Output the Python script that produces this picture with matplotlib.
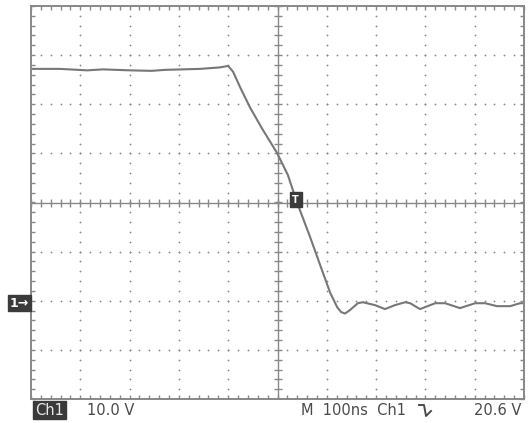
import numpy as np
import matplotlib.pyplot as plt
from matplotlib.lines import Line2D

# waveform: time in ns, voltage in V
t_ns = [0, 59, 114, 146, 201, 245, 272, 343, 383, 400, 410, 424, 444, 469, 499,
        521, 540, 566, 590, 607, 621, 629, 637, 647, 663, 673, 698, 718, 738,
        759, 769, 789, 820, 840, 870, 901, 921, 945, 972, 992, 1000]
volts = [47.2, 47.2, 46.9, 47.1, 46.9, 46.8, 47.0, 47.2, 47.5, 47.8, 46.6, 43.5,
         39.4, 35.0, 30.1, 25.6, 19.9, 13.0, 6.3, 1.6, -1.3, -2.3, -2.6, -1.9,
         -0.5, -0.3, -0.9, -1.7, -0.9, -0.3, -0.5, -1.7, -0.5, -0.5, -1.5, -0.5,
         -0.5, -1.1, -1.1, -0.5, -0.5]

ns_per_div = 100
v_per_div = 10.0
ground_div = -2          # ground marker position, divisions from centre
trigger_level = 20.6
trigger_t = 537          # ns

ch_label = 'Ch1'
scale_label = '10.0 V'
time_label = 'M  100ns  Ch1'
trig_label = '20.6 V'

W, H = 532, 423
grid_c = '#888888'
trace_c = '#777777'
text_c = '#4a4a4a'

fig = plt.figure(figsize=(W / 100, H / 100), dpi=100)
ax = fig.add_axes([31 / W, 1 - 399 / H, 493 / W, 393 / H])

# screen in divisions
x = np.array(t_ns) / ns_per_div
y = np.array(volts) / v_per_div + ground_div

ax.set_xlim(0, 10)
ax.set_ylim(-4, 4)

# dotted graticule
minor_x = np.arange(0, 10.01, 0.2)
minor_y = np.arange(-4, 4.01, 0.2)
for k in range(1, 10):
    if k == 5:
        continue
    ax.plot(np.full_like(minor_y, k), minor_y, ls='none', marker='o', ms=1.3,
            mec='none', mfc=grid_c)
for k in range(-3, 4):
    if k == 0:
        continue
    ax.plot(minor_x, np.full_like(minor_x, k), ls='none', marker='o', ms=1.3,
            mec='none', mfc=grid_c)

# centre crosshair with tick marks
ax.axhline(0, color=grid_c, lw=1.0)
ax.axvline(5, color=grid_c, lw=1.0)
ax.plot(minor_x, np.zeros_like(minor_x), ls='none', marker='|', ms=6,
        mew=1.0, color=grid_c)
ax.plot(np.full_like(minor_y, 5), minor_y, ls='none', marker='_', ms=6,
        mew=1.0, color=grid_c)

# border ticks
ax.set_xticks(minor_x)
ax.set_yticks(minor_y)
ax.tick_params(direction='in', length=3, width=1.0, color=grid_c,
               top=True, right=True, labelbottom=False, labelleft=False)
for s in ax.spines.values():
    s.set_color(grid_c)
    s.set_linewidth(1.4)

# trace
ax.plot(x, y, color=trace_c, lw=1.5, solid_joinstyle='round')

# trigger marker
ax.text(trigger_t / ns_per_div, trigger_level / v_per_div + ground_div,
        'T', color='white', fontsize=7, fontweight='bold', ha='center',
        va='center', bbox=dict(boxstyle='square,pad=0.25', fc='#3a3a3a',
                               ec='#3a3a3a'))

# ground marker
fig.text(10 / W, 1 - 303 / H, '1\u2192', color='white', fontsize=9,
         fontweight='bold', ha='left', va='center',
         bbox=dict(boxstyle='square,pad=0.15', fc='#3a3a3a', ec='#3a3a3a'))

# readouts
ty = 1 - 410 / H
fig.text(35 / W, ty, ch_label, color='#e8e8e8', fontsize=10.5, ha='left',
         va='center', bbox=dict(boxstyle='square,pad=0.12', fc='#3a3a3a',
                                ec='#3a3a3a'))
fig.text(87 / W, ty, scale_label, color=text_c, fontsize=10.5, ha='left',
         va='center')
fig.text(301 / W, ty, time_label, color=text_c, fontsize=10.5, ha='left',
         va='center')
fig.text(521 / W, ty, trig_label, color=text_c, fontsize=10.5, ha='right',
         va='center')

# falling-edge symbol
sx = np.array([419, 424, 426, 431]) / W
sy = 1 - np.array([405, 405, 416, 411]) / H
fig.add_artist(Line2D(sx, sy, color=text_c, lw=1.4))

fig.savefig('out.png', dpi=100)
